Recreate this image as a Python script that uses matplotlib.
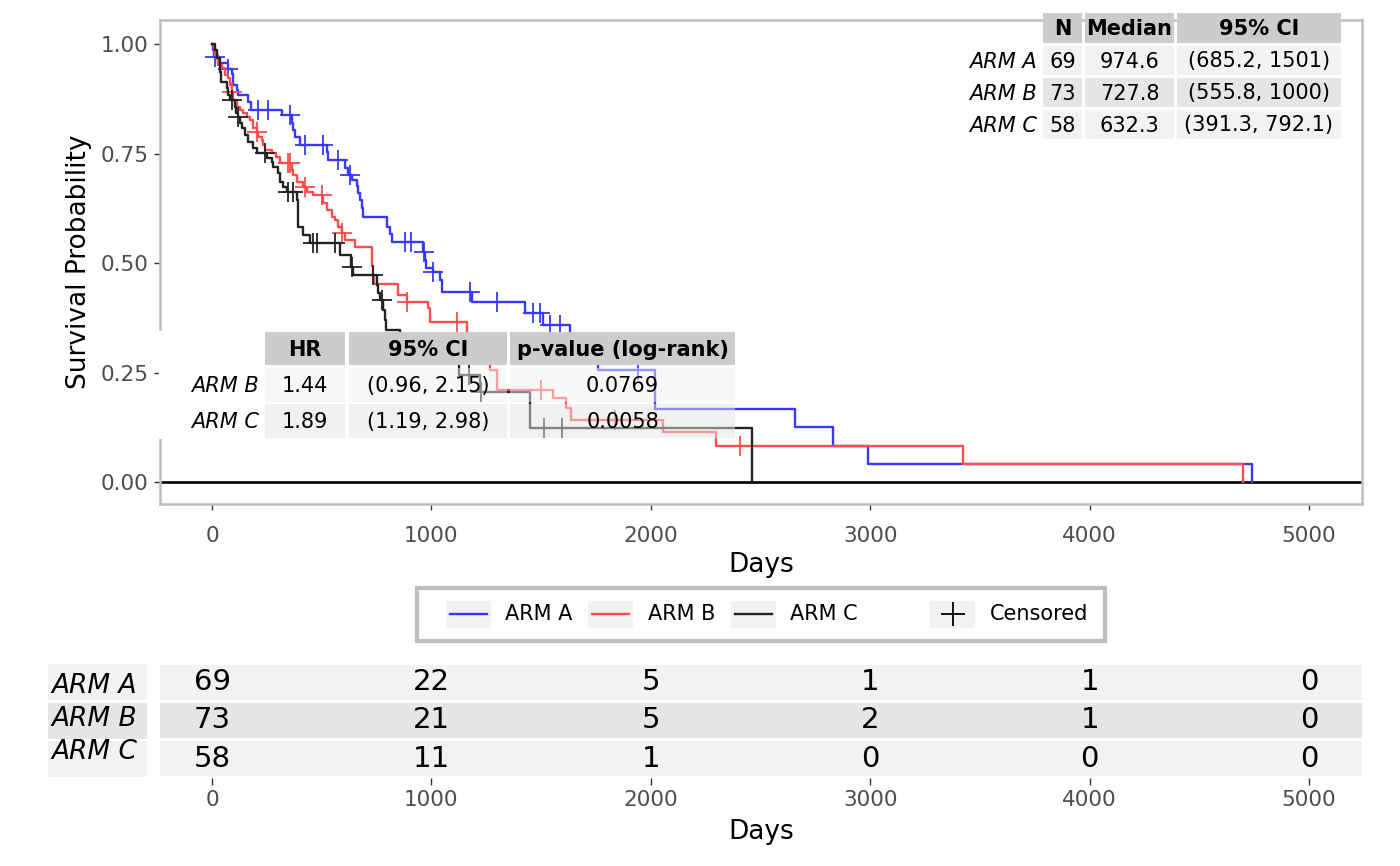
import numpy as np
import matplotlib
matplotlib.use("Agg")
import matplotlib.pyplot as plt
from matplotlib.patches import Rectangle
from matplotlib.lines import Line2D

# ---------------- data ----------------
arms = ["ARM A", "ARM B", "ARM C"]
colors = ["#3838ff", "#ff4d4d", "#222222"]

times_a = [3, 10, 27, 73, 91, 96, 114, 118, 164, 178, 319, 364, 369, 378, 401, 524, 528, 606, 620, 638,
           661, 665, 674, 683, 688, 797, 811, 820, 961, 970, 975, 1007, 1039, 1048, 1185, 1426, 1508, 1631,
           1759, 2018, 2656, 2829, 2989, 4738]
surv_a = [0.986, 0.971, 0.957, 0.942, 0.932, 0.906, 0.895, 0.884, 0.868, 0.849, 0.838, 0.820, 0.804, 0.788,
          0.769, 0.753, 0.735, 0.717, 0.701, 0.689, 0.676, 0.660, 0.644, 0.626, 0.605, 0.582, 0.566, 0.548,
          0.525, 0.507, 0.489, 0.479, 0.461, 0.434, 0.411, 0.386, 0.358, 0.313, 0.256, 0.167, 0.125, 0.083,
          0.042, 0.0]
cens_a = [12, 73, 210, 255, 355, 424, 506, 574, 629, 879, 907, 964, 1007, 1175, 1298, 1462, 1494, 1540,
          1585, 1941]

times_b = [9, 14, 27, 46, 59, 73, 82, 91, 96, 114, 128, 141, 159, 173, 187, 205, 210, 228, 232, 241,
           273, 292, 310, 364, 369, 387, 415, 433, 460, 506, 524, 547, 560, 574, 592, 606, 652, 728, 734, 738,
           847, 888, 984, 993, 1162, 1267, 1298, 1554, 1613, 1636, 2055, 2296, 3422, 4697]
surv_b = [0.991, 0.975, 0.952, 0.945, 0.929, 0.922, 0.906, 0.890, 0.872, 0.856, 0.849, 0.842, 0.833, 0.826,
          0.808, 0.799, 0.788, 0.781, 0.769, 0.758, 0.751, 0.742, 0.728, 0.712, 0.701, 0.685, 0.674, 0.662,
          0.655, 0.637, 0.621, 0.605, 0.598, 0.582, 0.568, 0.553, 0.537, 0.494, 0.468, 0.452, 0.427, 0.411,
          0.397, 0.365, 0.313, 0.256, 0.210, 0.192, 0.169, 0.142, 0.114, 0.082, 0.041, 0.0]
cens_b = [91, 205, 346, 355, 424, 501, 592, 888, 1116, 1499, 1836, 2406]

times_c = [14, 23, 36, 41, 68, 73, 82, 105, 109, 118, 128, 137, 150, 164, 187, 205, 251, 273, 278, 301,
           310, 323, 342, 387, 392, 394, 415, 446, 583, 632, 642, 752, 756, 765, 779, 788, 792, 857, 1040,
           1125, 1221, 1449, 2460]
surv_c = [0.986, 0.968, 0.936, 0.913, 0.900, 0.884, 0.872, 0.856, 0.842, 0.833, 0.820, 0.808, 0.792, 0.776,
          0.763, 0.751, 0.740, 0.731, 0.719, 0.705, 0.685, 0.674, 0.662, 0.644, 0.613, 0.582, 0.564, 0.546,
          0.518, 0.491, 0.473, 0.450, 0.432, 0.416, 0.393, 0.370, 0.347, 0.313, 0.280, 0.244, 0.205, 0.123, 0.0]
cens_c = [91, 118, 241, 346, 369, 460, 478, 560, 638, 733, 775, 1171, 1225, 1513, 1595]

# median table
med_n = [69, 73, 58]
med_median = ["974.6", "727.8", "632.3"]
med_ci = ["(685.2, 1501)", "(555.8, 1000)", "(391.3, 792.1)"]
med_header = ["N", "Median", "95% CI"]

# HR table
hr_arms = ["ARM B", "ARM C"]
hr_vals = ["1.44", "1.89"]
hr_ci = ["(0.96, 2.15)", "(1.19, 2.98)"]
hr_p = ["0.0769", "0.0058"]
hr_header = ["HR", "95% CI", "p-value (log-rank)"]

# risk table
risk_times = [0, 1000, 2000, 3000, 4000, 5000]
risk_a = [69, 22, 5, 1, 1, 0]
risk_b = [73, 21, 5, 2, 1, 0]
risk_c = [58, 11, 1, 0, 0, 0]

# ---------------- figure ----------------
W, H = 1400, 866
fig = plt.figure(figsize=(W / 100, H / 100), dpi=100)
fig.patch.set_facecolor("white")


def fx(px):
    return px / W


def fy(py):
    return 1 - py / H


XLIM = (-237, 5241)
FRAME = "#bebebe"
TICKC = "#333333"
LABC = "#4d4d4d"

ax = fig.add_axes([fx(160), fy(504), fx(1362) - fx(160), fy(20) - fy(504)])
ax.set_xlim(*XLIM)
ax.set_ylim(-0.0502, 1.0548)

series = [(times_a, surv_a, cens_a), (times_b, surv_b, cens_b), (times_c, surv_c, cens_c)]
for (t, s, c), col in zip(series, colors):
    tt = np.concatenate([[0.0], np.asarray(t, float)])
    ss = np.concatenate([[1.0], np.asarray(s, float)])
    ax.step(tt, ss, where="post", color=col, lw=1.7, zorder=3)
    ci = np.asarray(c, float)
    idx = np.searchsorted(tt, ci, side="right") - 1
    ax.plot(ci, ss[idx], ls="none", marker="+", ms=14, mew=1.3, color=col, zorder=3)

ax.axhline(0, color="black", lw=1.9, zorder=2)

ax.set_xticks(risk_times)
ax.set_yticks([0, 0.25, 0.5, 0.75, 1.0])
ax.set_yticklabels(["0.00", "0.25", "0.50", "0.75", "1.00"])
ax.tick_params(axis="x", length=4.5, width=1.0, color=TICKC, labelsize=15.5, labelcolor=LABC, pad=11)
ax.tick_params(axis="y", length=4.5, width=1.0, color=TICKC, labelsize=15.5, labelcolor=LABC, pad=4)
for sp in ax.spines.values():
    sp.set_color(FRAME)
    sp.set_linewidth(1.8)
ax.set_xlabel("Days", fontsize=19, labelpad=5)
ax.set_ylabel("Survival Probability", fontsize=19, labelpad=6)

# ---------------- risk table ----------------
rax = fig.add_axes([fx(160), fy(778), fx(1362) - fx(160), fy(663) - fy(778)])
rax.set_xlim(*XLIM)
rax.set_ylim(0, 3)
row_fill = ["#f2f2f2", "#e5e5e5", "#f2f2f2"]
for i, (vals, fc) in enumerate(zip([risk_a, risk_b, risk_c], row_fill)):
    y0 = 2 - i
    rax.axhspan(y0 + 0.04, y0 + 0.96, color=fc, lw=0, zorder=0)
    for t, v in zip(risk_times, vals):
        rax.text(t, y0 + 0.5, str(v), ha="center", va="center", fontsize=21, color="black")
for sp in rax.spines.values():
    sp.set_visible(False)
rax.set_yticks([])
rax.set_xticks(risk_times)
rax.tick_params(axis="x", length=5, width=1.0, color=TICKC, labelsize=15.5, labelcolor=LABC, pad=4)
rax.set_xlabel("Days", fontsize=19, labelpad=6)

# ---------------- overlay (tables, legend) ----------------
ov = fig.add_axes([0, 0, 1, 1], zorder=10)
ov.set_xlim(0, W)
ov.set_ylim(H, 0)
ov.axis("off")
ov.patch.set_visible(False)

# risk table row labels
for i, (arm, fc) in enumerate(zip(arms, row_fill)):
    r0 = 664 + i * 38.5
    ov.add_patch(Rectangle((48, r0), 99, 36, facecolor=fc, lw=0))
for arm, yc in zip(arms, [686, 719, 752]):
    ov.text(51, yc, arm, ha="left", va="center", fontsize=19, style="italic", color="black")

# median table (top right)
cols_m = [(1043, 1082), (1085, 1174), (1177, 1341)]
rows_m = [(13, 43), (46, 75), (78, 107), (110, 139)]
for (x0, x1), h in zip(cols_m, med_header):
    ov.add_patch(Rectangle((x0, rows_m[0][0]), x1 - x0, rows_m[0][1] - rows_m[0][0], facecolor="#cccccc", lw=0))
    ov.text((x0 + x1) / 2, sum(rows_m[0]) / 2 + 1, h, ha="center", va="center", fontsize=15, weight="bold")
for i, arm in enumerate(arms):
    r0, r1 = rows_m[i + 1]
    fc = row_fill[i]
    vals = [str(med_n[i]), med_median[i], med_ci[i]]
    for (x0, x1), v in zip(cols_m, vals):
        ov.add_patch(Rectangle((x0, r0), x1 - x0, r1 - r0, facecolor=fc, lw=0))
        ov.text((x0 + x1) / 2, (r0 + r1) / 2 + 1, v, ha="center", va="center", fontsize=15)
    ov.text(1037, (r0 + r1) / 2 + 1, arm, ha="right", va="center", fontsize=15, style="italic")

# HR table
cols_h = [(265, 345), (349, 507), (510, 735)]
rows_h = [(332, 365), (368, 402), (404, 438)]
ov.add_patch(Rectangle((159, 331), 106, 108, facecolor="white", lw=0))
for (x0, x1), h in zip(cols_h, hr_header):
    ov.add_patch(Rectangle((x0, rows_h[0][0]), x1 - x0, rows_h[0][1] - rows_h[0][0], facecolor="#cccccc", lw=0))
    ov.text((x0 + x1) / 2, sum(rows_h[0]) / 2 + 1, h, ha="center", va="center", fontsize=15, weight="bold")
for i, arm in enumerate(hr_arms):
    r0, r1 = rows_h[i + 1]
    fc = row_fill[i]
    vals = [hr_vals[i], hr_ci[i], hr_p[i]]
    for (x0, x1), v in zip(cols_h, vals):
        ov.add_patch(Rectangle((x0, r0), x1 - x0, r1 - r0, facecolor=fc, alpha=0.5, lw=0))
        ov.text((x0 + x1) / 2, (r0 + r1) / 2 + 1, v, ha="center", va="center", fontsize=15)
    ov.text(259, (r0 + r1) / 2 + 1, arm, ha="right", va="center", fontsize=15, style="italic")

# legend
ov.add_patch(Rectangle((417, 588), 688, 53, facecolor="white", edgecolor=FRAME, lw=3))
key_x = [446, 588, 731]
lab_x = [505, 648, 790]
for kx, lx, arm, col in zip(key_x, lab_x, arms, colors):
    ov.add_patch(Rectangle((kx, 601), 45, 27, facecolor="#f2f2f2", lw=0))
    ov.add_line(Line2D([kx + 4, kx + 41], [614, 614], color=col, lw=1.7))
    ov.text(lx, 614, arm, ha="left", va="center", fontsize=15)
ov.add_patch(Rectangle((930, 601), 45, 27, facecolor="#f2f2f2", lw=0))
ov.plot([952.5], [614], marker="+", ms=17, mew=1.3, color="black", ls="none")
ov.text(990, 614, "Censored", ha="left", va="center", fontsize=15)

fig.savefig("out.png", dpi=100, facecolor="white")
